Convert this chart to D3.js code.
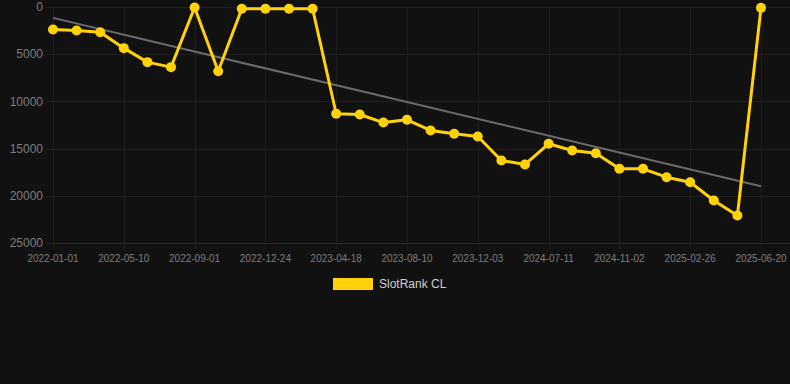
<!DOCTYPE html>
<html>
<head>
<meta charset="utf-8">
<script src="https://cdn.jsdelivr.net/npm/d3@7"></script>
<style>
  html, body { margin: 0; padding: 0; background: #111111; }
  svg { display: block; font-family: Arial, "Liberation Sans", sans-serif; }
</style>
</head>
<body>
<div id="chart"></div>
<script>
// rank over time, y reversed (rank 0 at top); dashed-free grey trend line
const dates = [
  "2022-01-01", "2022-02-13", "2022-03-28", "2022-05-10", "2022-06-17", "2022-07-25",
  "2022-09-01", "2022-10-09", "2022-11-16", "2022-12-24", "2023-02-01", "2023-03-11",
  "2023-04-18", "2023-05-25", "2023-07-02", "2023-08-10", "2023-09-17", "2023-10-25",
  "2023-12-03", "2024-02-15", "2024-04-28", "2024-07-11", "2024-08-19", "2024-09-25",
  "2024-11-02", "2024-12-11", "2025-01-18", "2025-02-26", "2025-04-05", "2025-05-13",
  "2025-06-20"
];
const ranks = [
  2380, 2490, 2670, 4360, 5840, 6370,
  50, 6800, 190, 190, 190, 190,
  11310, 11390, 12240, 11950, 13080, 13430,
  13720, 16260, 16680, 14490, 15200, 15490,
  17140, 17140, 18030, 18560, 20500, 22090,
  90
];
const trendEnds = [1150, 18980];
const yTicks = [0, 5000, 10000, 15000, 20000, 25000];
const seriesName = "SlotRank CL";

const W = 790, H = 384;
const m = { top: 7, left: 53, right: 29, bottom: 141 };
const yellow = "#ffd20a";

const svg = d3.select("#chart").append("svg").attr("width", W).attr("height", H);
svg.append("rect").attr("width", W).attr("height", H).attr("fill", "#111111");

const x = d3.scalePoint().domain(dates).range([m.left, W - m.right]);
const y = d3.scaleLinear().domain([0, 25000]).range([m.top, H - m.bottom]);

// grid
const g = svg.append("g");
g.selectAll(".hg").data(yTicks).join("line")
  .attr("x1", m.left - 6).attr("x2", W)
  .attr("y1", d => Math.round(y(d)) + 0.5).attr("y2", d => Math.round(y(d)) + 0.5)
  .attr("stroke", d => d === 25000 ? "#2a2a2a" : "#1f1f1f").attr("stroke-width", 1);
const labelled = dates.filter((d, i) => i % 3 === 0);
g.selectAll(".vg").data(labelled).join("line")
  .attr("x1", d => Math.round(x(d)) + 0.5).attr("x2", d => Math.round(x(d)) + 0.5)
  .attr("y1", m.top).attr("y2", H - m.bottom + 6)
  .attr("stroke", "#1f1f1f").attr("stroke-width", 1);

// y tick labels
g.selectAll(".yl").data(yTicks).join("text")
  .attr("x", 43).attr("y", d => y(d)).attr("dy", "0.35em")
  .attr("text-anchor", "end").attr("font-size", 12).attr("fill", "#7d7d7d")
  .text(d => d);

// x tick labels
g.selectAll(".xl").data(labelled).join("text")
  .attr("x", d => x(d)).attr("y", H - m.bottom + 19)
  .attr("text-anchor", "middle").attr("font-size", 10).attr("fill", "#7d7d7d")
  .text(d => d);

// trend
svg.append("line")
  .attr("x1", x(dates[0])).attr("y1", y(trendEnds[0]))
  .attr("x2", x(dates[dates.length - 1])).attr("y2", y(trendEnds[1]))
  .attr("stroke", "#6b6b6b").attr("stroke-width", 2);

// series
const pts = dates.map((d, i) => [d, ranks[i]]);
svg.append("path").datum(pts)
  .attr("fill", "none").attr("stroke", yellow).attr("stroke-width", 3)
  .attr("stroke-linejoin", "round")
  .attr("d", d3.line().x(d => x(d[0])).y(d => y(d[1])));
svg.selectAll(".pt").data(pts).join("circle")
  .attr("cx", d => x(d[0])).attr("cy", d => y(d[1])).attr("r", 5)
  .attr("fill", yellow);

// legend
const lg = svg.append("g").attr("transform", "translate(333,278)");
lg.append("rect").attr("width", 40).attr("height", 12).attr("fill", yellow);
lg.append("text").attr("x", 46).attr("y", 6).attr("dy", "0.35em")
  .attr("font-size", 12).attr("fill", "#cfcfcf").text(seriesName);
</script>
</body>
</html>
